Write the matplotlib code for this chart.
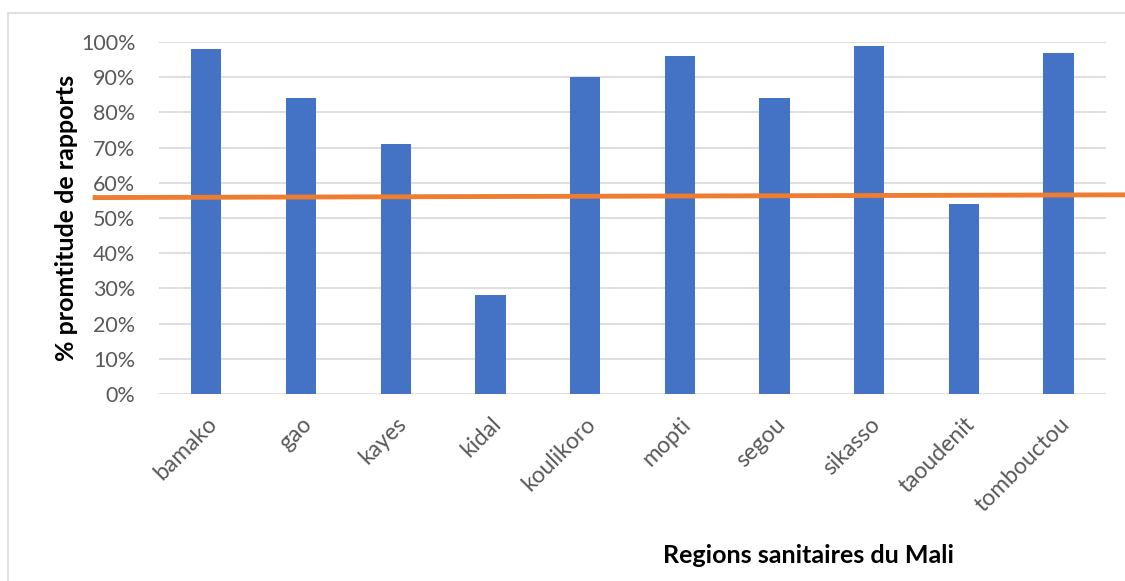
import numpy as np
import matplotlib
matplotlib.use("Agg")
import matplotlib.pyplot as plt
from matplotlib.patches import Rectangle
from matplotlib.ticker import PercentFormatter

regions = ['bamako', 'gao', 'kayes', 'kidal', 'koulikoro',
           'mopti', 'segou', 'sikasso', 'taoudenit', 'tombouctou']
promptitude = [0.98, 0.84, 0.71, 0.28, 0.90, 0.96, 0.84, 0.99, 0.54, 0.97]

# hand-drawn target line, slightly tilted
target_x = [-1.2, 10.0]
target_y = [0.558, 0.566]

plt.rcParams['font.family'] = ['Lato', 'DejaVu Sans']

fig = plt.figure(figsize=(11.25, 5.81), dpi=100)
ax = fig.add_axes([0.1413, 0.3219, 0.8418, 0.6058])

# outer chart border
fig.patches.append(Rectangle((0.0071, -0.1), 1.2, 0.9776 + 0.1,
                             transform=fig.transFigure, fill=False,
                             edgecolor='#D9D9D9', linewidth=1.2))

x = np.arange(len(regions))
ax.bar(x, promptitude, width=0.32, color='#4472C4', zorder=3)

ax.plot(target_x, target_y, color='#ED7D31', linewidth=3.5,
        solid_capstyle='butt', clip_on=False, zorder=4)

ax.set_xlim(-0.5, len(regions) - 0.5)
ax.set_ylim(0, 1.0)
ax.set_yticks(np.arange(0, 1.01, 0.1))
ax.yaxis.set_major_formatter(PercentFormatter(1.0, decimals=0))
ax.grid(axis='y', color='#D9D9D9', linewidth=1.2, zorder=0)
for s in ax.spines.values():
    s.set_visible(False)
ax.tick_params(length=0, labelcolor='#595959')
ax.tick_params(axis='y', pad=17, labelsize=15.5)

ax.set_xticks(x)
ax.set_xticklabels(regions, rotation=45, ha='right', rotation_mode='anchor')
ax.tick_params(axis='x', pad=14, labelsize=16.5)

ax.set_ylabel('% promtitude de rapports', fontsize=18, fontweight='bold',
              color='black', labelpad=2)
fig.text(0.7186, 0.044, 'Regions sanitaires du Mali', fontsize=18,
         fontweight='bold', ha='center', va='center')

fig.savefig('out.png', dpi=100)
